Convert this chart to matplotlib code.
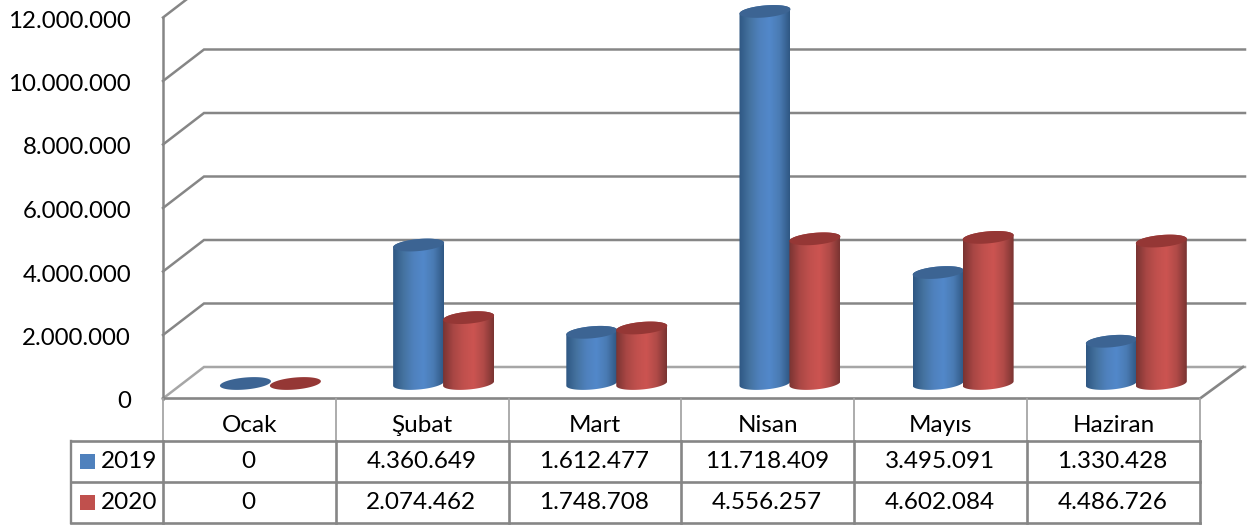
import numpy as np
import matplotlib
matplotlib.use('Agg')
import matplotlib.pyplot as plt
from matplotlib.colors import LinearSegmentedColormap
from matplotlib.patches import Polygon, Rectangle
from matplotlib.ticker import FuncFormatter
from matplotlib.transforms import ScaledTranslation

months = ['Ocak', 'Şubat', 'Mart', 'Nisan', 'Mayıs', 'Haziran']
series_names = ['2019', '2020']
values_2019 = [0, 4360649, 1612477, 11718409, 3495091, 1330428]
values_2020 = [0, 2074462, 1748708, 4556257, 4602084, 4486726]
y_ticks = [0, 2000000, 4000000, 6000000, 8000000, 10000000, 12000000]

W, H = 1249, 525
GRID = '#868686'
plt.rcParams['font.family'] = ['Lato', 'DejaVu Sans']

def dotted(v, pos=None):
    return f'{int(v):,}'.replace(',', '.')

fig = plt.figure(figsize=(W / 100, H / 100), dpi=100, facecolor='white')
left, right, y0, y12 = 163, 1200, 398.5, 17.5
ax = fig.add_axes([left / W, 1 - y0 / H, (right - left) / W, (y0 - y12) / H])
ax.set_xlim(0, 6)
ax.set_ylim(0, 12000000)
ax.patch.set_visible(False)
for s in ['top', 'right', 'bottom']:
    ax.spines[s].set_visible(False)
ax.spines['left'].set_color(GRID)
ax.spines['left'].set_linewidth(1.8)
ax.set_xticks([])
ax.set_yticks(y_ticks)
ax.yaxis.set_major_formatter(FuncFormatter(dotted))
ax.tick_params(axis='y', length=0, pad=23, labelsize=17.3, labelcolor='black')
# tick labels sit a touch below their gridline
nudge = ScaledTranslation(0, -1.5 / 100, fig.dpi_scale_trans)
for lab in ax.get_yticklabels():
    lab.set_transform(lab.get_transform() + nudge)

# pixels -> data units
px_x = 6 / (right - left)
px_y = 12000000 / (y0 - y12)
depth_x, depth_y = 41 * px_x, 31.5 * px_y

# back wall, side wall, floor
for t in y_ticks:
    c = '#a6a6a6' if t == 0 else GRID
    ax.plot([0, depth_x, 6 + depth_x + 4 * px_x], [t, t + depth_y, t + depth_y], color=c, lw=1.8,
            clip_on=False, solid_joinstyle='miter', zorder=1)
ax.plot([0, 6, 6 + depth_x + 2 * px_x], [0, 0, depth_y], color=GRID, lw=1.9, clip_on=False, zorder=1.5)

# cylinders
cyl_a, cyl_b, cyl_k = 25.5 * px_x, 6 * px_y, 2.2 * px_y
base_y = 15 * px_y
offsets = [0.477, 0.766]
spread = 0.35 * px_x  # bars sit a little wider apart than the table columns
ramps = [LinearSegmentedColormap.from_list('b', ['#2f5783', '#44729f', '#4f81bd', '#5288ca', '#4a7bb3', '#2f5783']),
         LinearSegmentedColormap.from_list('r', ['#7a3432', '#a84644', '#c0504d', '#cc5451', '#b04a47', '#7a3432'])]
cap_colors = ['#3c6493', '#953735']
grad = np.linspace(0, 1, 128).reshape(1, -1)
t_low = np.linspace(np.pi, 2 * np.pi, 50)
t_up = np.linspace(0, np.pi, 50)

for k, vals in enumerate([values_2019, values_2020]):
    for i, v in enumerate(vals):
        cx = i + offsets[k] + i * spread
        y_bot = base_y
        y_top = base_y + v
        if v > 0:
            low = np.c_[cx + cyl_a * np.cos(t_low), y_bot + cyl_b * np.sin(t_low) + cyl_k * np.cos(t_low)]
            up = np.c_[cx + cyl_a * np.cos(t_up), y_top + cyl_b * np.sin(t_up) + cyl_k * np.cos(t_up)]
            body = Polygon(np.r_[low, up], closed=True, transform=ax.transData, fc='none', ec='none', clip_on=False)
            ax.add_patch(body)
            im = ax.imshow(grad, cmap=ramps[k], aspect='auto', interpolation='bilinear',
                           extent=[cx - cyl_a, cx + cyl_a, y_bot - 2 * cyl_b, y_top + 2 * cyl_b],
                           zorder=3 + k * 0.1 + i * 0.01)
            im.set_clip_box(fig.bbox)  # the tallest bar pokes out above the 12M line
            im.set_clip_path(body)
        tt = np.linspace(0, 2 * np.pi, 100)
        cap = np.c_[cx + cyl_a * np.cos(tt), y_top + cyl_b * np.sin(tt) + cyl_k * np.cos(tt)]
        ax.add_patch(Polygon(cap, closed=True, fc=cap_colors[k], ec='none', clip_on=False,
                             zorder=3.005 + k * 0.1 + i * 0.01))
ax.set_xlim(0, 6)
ax.set_ylim(0, 12000000)

# data table underneath, drawn in pixel coordinates
tb = fig.add_axes([0, 0, 1, 1])
tb.set_xlim(0, W)
tb.set_ylim(H, 0)
tb.axis('off')
tb.patch.set_visible(False)
col_x = np.linspace(left, right, len(months) + 1)
row_y = [399, 440.5, 481.5, 522.5]
legend_x = 71
for j, x in enumerate(col_x):
    tb.plot([x, x], [row_y[0], row_y[1]], color='#a6a6a6', lw=1.3)
    tb.plot([x, x], [row_y[1], row_y[3]], color=GRID, lw=1.9)
tb.plot([legend_x, legend_x], [row_y[1], row_y[3]], color=GRID, lw=1.7)
for y in row_y[1:]:
    tb.plot([legend_x, right], [y, y], color=GRID, lw=1.9)

for i, name in enumerate(months):
    xc = (col_x[i] + col_x[i + 1]) / 2
    tb.text(xc, 425, name, ha='center', va='center', fontsize=17.5, color='black')
    tb.text(xc - 1, 461.5, dotted(values_2019[i]), ha='center', va='center', fontsize=17.5, color='black')
    tb.text(xc - 1, 502.5, dotted(values_2020[i]), ha='center', va='center', fontsize=17.5, color='black')

swatches = ['#4f81bd', '#c0504d']
for n, name in enumerate(series_names):
    yc = (row_y[n + 1] + row_y[n + 2]) / 2
    tb.add_patch(Rectangle((80, yc - 7.5), 15, 15, fc=swatches[n], ec='none'))
    tb.text(101, yc + 0.5, name, ha='left', va='center', fontsize=17.5, color='black')

fig.savefig('out.png', dpi=100, facecolor='white')
